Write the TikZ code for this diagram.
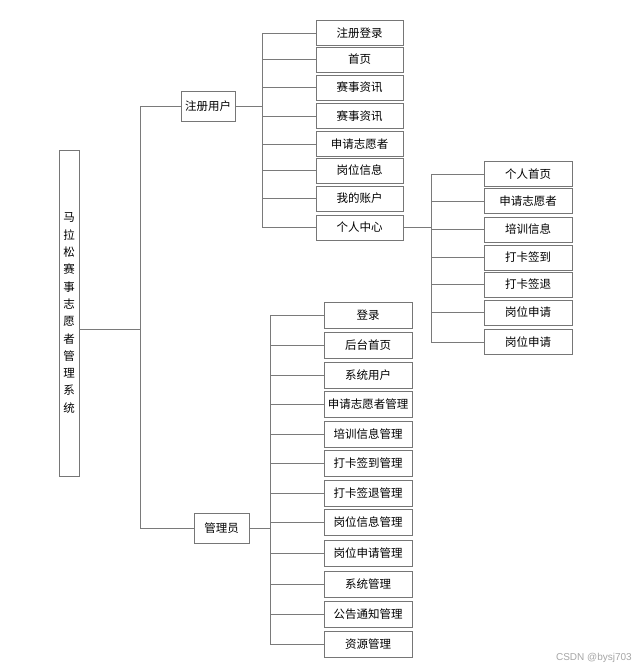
\documentclass[tikz,border=0pt]{standalone}
\usepackage{fontspec}
\newfontfamily\cjk{Noto Sans CJK SC}
\begin{document}
\begin{tikzpicture}[x=1pt,y=-1pt,
  box/.style={draw=boxc, fill=white, line width=1pt, inner sep=0pt,
    font=\cjk\fontsize{11.5}{14}\selectfont},
  conn/.style={draw=linec, line width=1pt}]
\definecolor{boxc}{HTML}{767676}
\definecolor{linec}{HTML}{7A7A7A}
\useasboundingbox[fill=white] (0,0) rectangle (641,670);
% root
\node[box, minimum width=20pt, minimum height=326pt, align=center,
  font=\cjk\fontsize{11.5}{17.3}\selectfont] (root) at (69,313)
  {马\\拉\\松\\赛\\事\\志\\愿\\者\\管\\理\\系\\统};
% level 1
\node[box, minimum width=54pt, minimum height=30pt] (reg) at (208,106) {注册用户};
\node[box, minimum width=55pt, minimum height=30pt] (adm) at (221.5,528) {管理员};
% registered user children
\foreach \n/\y/\t in {r1/33/注册登录, r2/59.5/首页, r3/87.5/赛事资讯, r4/116/赛事资讯,
  r5/144/申请志愿者, r6/170.5/岗位信息, r7/198.5/我的账户, r8/227.5/个人中心}
  \node[box, minimum width=87pt, minimum height=25pt] (\n) at (359.5,\y) {\t};
% personal center children
\foreach \n/\y/\t in {p1/174/个人首页, p2/201/申请志愿者, p3/229.5/培训信息, p4/257.5/打卡签到,
  p5/284.5/打卡签退, p6/312.5/岗位申请, p7/342/岗位申请}
  \node[box, minimum width=88pt, minimum height=25pt] (\n) at (528,\y) {\t};
% admin children
\foreach \n/\y/\t in {a1/315/登录, a2/345/后台首页, a3/375/系统用户, a4/404/申请志愿者管理,
  a5/434/培训信息管理, a6/463/打卡签到管理, a7/493.5/打卡签退管理, a8/522.5/岗位信息管理,
  a9/553/岗位申请管理, a10/584/系统管理, a11/614/公告通知管理, a12/644/资源管理}
  \node[box, minimum width=88pt, minimum height=26pt] (\n) at (368,\y) {\t};
% bus coordinates
\coordinate (t0) at (140,0);
\coordinate (b1) at (262,0);
\coordinate (b2) at (431,0);
\coordinate (b3) at (270,0);
\coordinate (rj) at (79,329);
% root trunk
\draw[conn] (rj) -- (rj -| t0);
\draw[conn] (reg.west -| t0) -- (adm.west -| t0);
\draw[conn] (reg.west -| t0) -- (reg.west);
\draw[conn] (adm.west -| t0) -- (adm.west);
% registered user bus
\draw[conn] (reg.east) -- (reg.east -| b1);
\draw[conn] (r1.west -| b1) -- (r8.west -| b1);
\foreach \n in {r1,r2,r3,r4,r5,r6,r7,r8}
  \draw[conn] (\n.west -| b1) -- (\n.west);
% personal center bus
\draw[conn] (r8.east) -- (r8.east -| b2);
\draw[conn] (p1.west -| b2) -- (p7.west -| b2);
\foreach \n in {p1,p2,p3,p4,p5,p6,p7}
  \draw[conn] (\n.west -| b2) -- (\n.west);
% admin bus
\draw[conn] (adm.east) -- (adm.east -| b3);
\draw[conn] (a1.west -| b3) -- (a12.west -| b3);
\foreach \n in {a1,a2,a3,a4,a5,a6,a7,a8,a9,a10,a11,a12}
  \draw[conn] (\n.west -| b3) -- (\n.west);
% watermark
\node[font=\fontspec{Liberation Sans}\fontsize{10}{12}\selectfont, text=black!35, anchor=east, inner sep=0pt] (wm) at (632,658) {CSDN @bysj703};
\end{tikzpicture}
\end{document}
